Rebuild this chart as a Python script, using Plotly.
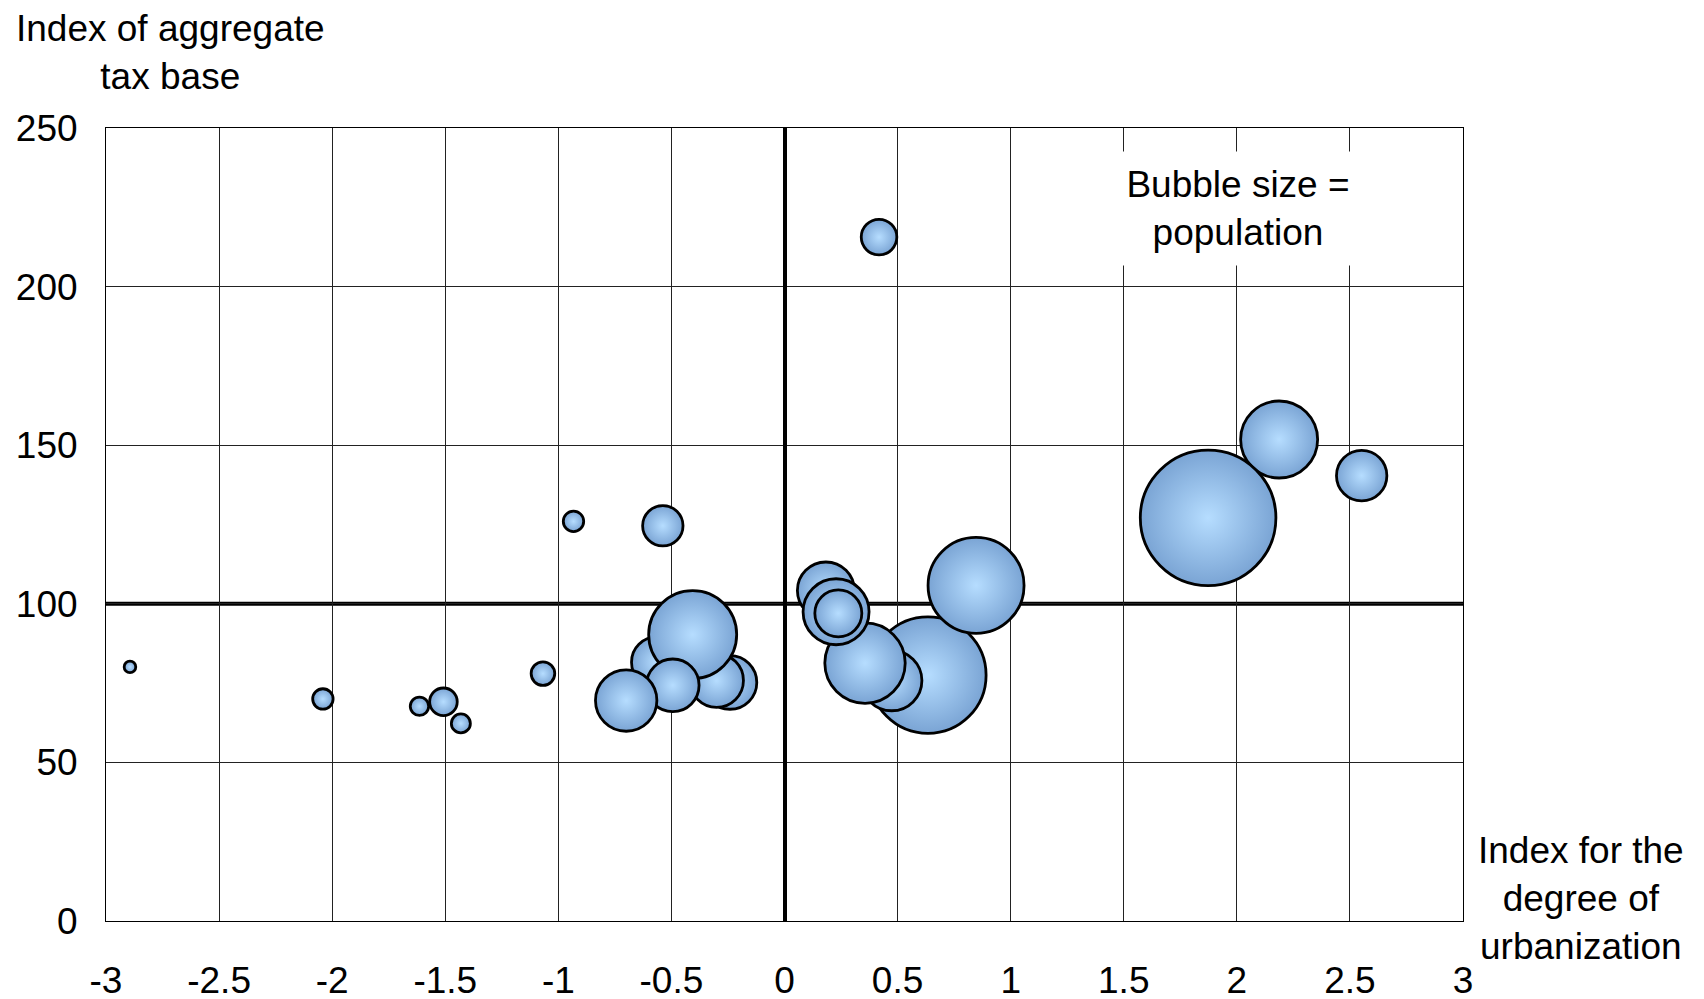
import plotly.graph_objects as go

# Index for the degree of urbanization (x), index of aggregate tax base (y), population (bubble size)
urbanization = [-2.894, -2.041, -1.614, -1.508, -1.431, -1.068, -0.933, -0.538,
                -0.241, -0.300, -0.565, -0.406, -0.494, -0.700,
                0.634, 0.847, 0.474, 0.356, 0.183, 0.228, 0.238,
                0.418, 2.187, 1.873, 2.552]
tax_base = [80.1, 70.0, 67.7, 69.1, 62.3, 78.0, 126.0, 124.6,
            75.2, 75.8, 81.6, 90.3, 74.3, 69.5,
            77.5, 105.8, 75.8, 81.3, 104.2, 97.5, 97.0,
            215.6, 151.8, 127.1, 140.4]
population = [84, 260, 212, 476, 226, 348, 260, 1020,
              1796, 1796, 1588, 4840, 1729, 2356,
              8468, 5760, 2280, 4040, 2031, 2723, 1381,
              792, 3706, 11492, 1588]

x_ticks = [-3, -2.5, -2, -1.5, -1, -0.5, 0, 0.5, 1, 1.5, 2, 2.5, 3]
x_tick_text = ["-3", "-2.5", "-2", "-1.5", "-1", "-0.5", "0", "0.5", "1", "1.5", "2", "2.5", "3"]
y_ticks = [0, 50, 100, 150, 200, 250]
y_tick_text = ["0", "50", "100", "150", "200", "250"]

FONT = "Liberation Sans, Arial, sans-serif"
FS = 37

fig = go.Figure()
fig.add_trace(go.Scatter(
    x=urbanization, y=tax_base, mode="markers",
    marker=dict(
        size=population, sizemode="area", sizeref=1.25,
        color="#7aa4d4",
        gradient=dict(type="radial", color="#b6ddff"),
        line=dict(color="black", width=2.8),
        opacity=1,
    ),
    hoverinfo="x+y",
    showlegend=False,
))

fig.add_shape(type="line", xref="paper", yref="y", x0=0, x1=1, y0=100, y1=100,
              line=dict(color="black", width=4), layer="between")

fig.update_xaxes(
    range=[-3, 3], tickvals=x_ticks, ticktext=x_tick_text,
    showgrid=True, gridcolor="#222222", gridwidth=1,
    zeroline=True, zerolinecolor="black", zerolinewidth=4,
    showline=True, linecolor="black", linewidth=1, mirror=True,
    ticks="", ticklabelstandoff=27,
    tickfont=dict(family=FONT, size=FS, color="black"),
)
fig.update_yaxes(
    range=[0, 250], tickvals=y_ticks, ticktext=y_tick_text,
    showgrid=True, gridcolor="#222222", gridwidth=1,
    zeroline=False,
    showline=True, linecolor="black", linewidth=1, mirror=True,
    ticks="", ticklabelstandoff=20,
    tickfont=dict(family=FONT, size=FS, color="black"),
)

fig.add_annotation(
    text="Index of aggregate<br>tax base", xref="paper", yref="paper",
    x=0.0472, y=1.095, xanchor="center", yanchor="middle", showarrow=False,
    align="center", font=dict(family=FONT, size=FS, color="black"),
)
fig.add_annotation(
    text="Index for the<br>degree of<br>urbanization", xref="paper", yref="paper",
    x=1.087, y=0.028, xanchor="center", yanchor="middle", showarrow=False,
    align="center", font=dict(family=FONT, size=FS, color="black"),
)
fig.add_annotation(
    text="Bubble size =<br>population", xref="paper", yref="paper",
    x=0.834, y=0.899, xanchor="center", yanchor="middle", showarrow=False,
    align="center", bgcolor="white", borderpad=12, width=236,
    font=dict(family=FONT, size=FS, color="black"),
)

fig.update_layout(
    width=1704, height=999,
    margin=dict(l=98, r=249, t=120, b=86, autoexpand=False),
    paper_bgcolor="white", plot_bgcolor="white",
    font=dict(family=FONT, size=FS, color="black"),
)

fig.write_html("out.html")
